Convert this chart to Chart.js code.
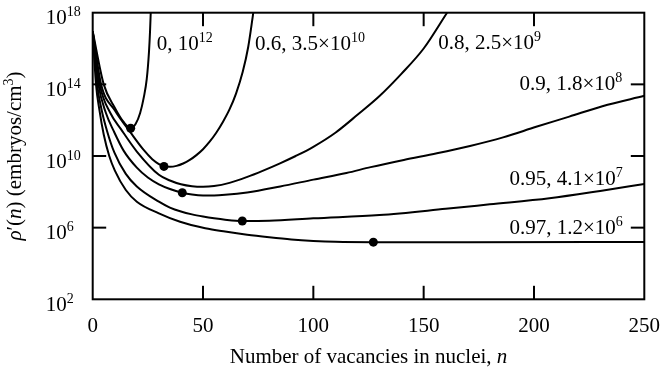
<!DOCTYPE html>
<html>
<head>
<meta charset="utf-8">
<script src="https://cdn.jsdelivr.net/npm/chart.js@4/dist/chart.umd.min.js"></script>
<style>
  html, body { margin: 0; padding: 0; background: #fff; }
  #wrap { width: 661px; height: 372px; }
</style>
</head>
<body>
<div id="wrap"><canvas id="chart" width="661" height="372"></canvas></div>
<script>
// Embryo density vs. number of vacancies, one curve per (fraction, rate) pair.
// n values and log10 of the density rho'(n) in embryos/cm^3.
const nA  = [0, 5, 10, 14, 17.2, 19.5, 21.5, 23.2, 24.5, 25.5, 26.0, 26.3];
const lgA = [16.95, 14.0, 12.7, 11.9, 11.55, 11.8, 12.4, 13.3, 14.3, 15.8, 17.0, 18.0];

const nB  = [0, 3.8, 10, 17.2, 23, 27, 30, 32.3, 35, 38, 41, 44, 47, 50, 53, 56, 59, 62, 65, 68, 70.5, 72.8];
const lgB = [16.95, 14.0, 12.55, 11.3, 10.35, 9.82, 9.55, 9.42, 9.40, 9.45, 9.58, 9.78, 10.05, 10.38, 10.8, 11.3, 11.9, 12.6, 13.5, 14.7, 16.1, 18.0];

const nC  = [0, 3.2, 8, 12.8, 20, 30, 35, 40, 45, 50, 55, 62, 69.8, 77, 84.9, 92, 99.8, 110, 120, 130, 140, 150, 160.6];
const lgC = [16.95, 14.0, 12.4, 11.5, 10.25, 8.95, 8.63, 8.42, 8.31, 8.28, 8.32, 8.5, 8.82, 9.17, 9.59, 10.0, 10.5, 11.3, 12.3, 13.35, 14.6, 16.0, 18.0];

const nD  = [0, 2.6, 6, 9.5, 14, 20, 25, 30, 35, 40.6, 45, 50, 55, 60, 70, 85, 100, 115, 126, 141, 156, 171, 186, 201, 216, 231, 250];
const lgD = [16.95, 14.0, 12.4, 11.4, 10.3, 9.35, 8.8, 8.42, 8.16, 7.95, 7.85, 7.8, 7.8, 7.83, 7.96, 8.3, 8.68, 9.05, 9.38, 9.78, 10.15, 10.56, 11.04, 11.63, 12.2, 12.78, 13.36];

const nE  = [0, 2, 4, 6.5, 9.8, 15, 20, 30, 35, 40, 45, 50, 55, 60, 67.8, 80, 100, 130, 160, 180, 207, 230, 250];
const lgE = [16.95, 14.0, 12.6, 11.4, 10.2, 9.0, 8.3, 7.45, 7.12, 6.9, 6.74, 6.62, 6.52, 6.44, 6.37, 6.38, 6.52, 6.70, 7.05, 7.3, 7.64, 8.05, 8.44];

const nF  = [0, 1.5, 3, 5, 7.5, 10, 15, 20, 30, 39.6, 51, 60, 70, 80, 90, 100, 110, 127.2, 170, 250];
const lgF = [16.95, 14.0, 12.6, 11.2, 10.0, 9.2, 8.1, 7.45, 6.8, 6.33, 5.97, 5.78, 5.6, 5.46, 5.34, 5.26, 5.21, 5.19, 5.19, 5.2];

// marked points on the curves
const dotN  = [17.2, 32.3, 40.6, 67.8, 127.2];
const dotLg = [11.55, 9.42, 7.95, 6.37, 5.19];

// curve captions: main text and exponent
const capMain = ['0, 10', '0.6, 3.5\u00d710', '0.8, 2.5\u00d710', '0.9, 1.8\u00d710', '0.95, 4.1\u00d710', '0.97, 1.2\u00d710'];
const capExp  = ['12', '10', '9', '8', '7', '6'];

// axis ticks
const xTickVals = [0, 50, 100, 150, 200, 250];
const yTickExps = [2, 6, 10, 14, 18];

// ---- layout (data units for caption anchors: left edge n, baseline log10) ----
const capAnchor = [
  [29.0, 15.92], [73.6, 15.92], [156.6, 15.95],
  [193.4, 13.68], [188.9, 8.38], [188.9, 5.62]
];

const SERIF = '"Liberation Serif", "Times New Roman", "DejaVu Serif", serif';
const F_MAIN = '21px ' + SERIF;
const F_IT = 'italic 21px ' + SERIF;
const F_SUP = '14px ' + SERIF;

function pts(ns, lgs) { return ns.map((n, i) => ({ x: n, y: Math.pow(10, lgs[i]) })); }

const curveStyle = {
  borderColor: '#000', borderWidth: 2, pointRadius: 0, fill: false,
  cubicInterpolationMode: 'monotone'
};

// draw a run of text pieces: {t, sup, it}
function runWidth(ctx, parts) {
  let w = 0;
  for (const p of parts) { ctx.font = p.sup ? F_SUP : (p.it ? F_IT : F_MAIN); w += ctx.measureText(p.t).width; }
  return w;
}
function drawRun(ctx, x, y, parts) {
  let cx = x;
  for (const p of parts) {
    ctx.font = p.sup ? F_SUP : (p.it ? F_IT : F_MAIN);
    ctx.fillText(p.t, cx, p.sup ? y - 8 : y);
    cx += ctx.measureText(p.t).width;
  }
}

const decor = {
  id: 'decor',
  afterDatasetsDraw(chart) {
    const { ctx, chartArea: a, scales: { x, y } } = chart;
    ctx.save();
    ctx.strokeStyle = '#000';
    ctx.fillStyle = '#000';
    ctx.lineWidth = 2;
    ctx.lineCap = 'butt';
    ctx.strokeRect(a.left, a.top, a.right - a.left, a.bottom - a.top);

    const L = 13.5;
    const seg = (x1, y1, x2, y2) => { ctx.beginPath(); ctx.moveTo(x1, y1); ctx.lineTo(x2, y2); ctx.stroke(); };
    xTickVals.forEach(v => {
      const px = x.getPixelForValue(v);
      if (v > 0 && v < 250) { seg(px, a.bottom, px, a.bottom - L); seg(px, a.top, px, a.top + L); }
    });
    yTickExps.forEach(e => {
      const py = y.getPixelForValue(Math.pow(10, e));
      if (e > 2 && e < 18) { seg(a.left, py, a.left + L, py); seg(a.right, py, a.right - L, py); }
    });

    // tick labels
    ctx.textBaseline = 'alphabetic';
    ctx.font = F_MAIN;
    ctx.textAlign = 'center';
    xTickVals.forEach(v => ctx.fillText(String(v), x.getPixelForValue(v), a.bottom + 33));
    yTickExps.forEach(e => {
      const py = y.getPixelForValue(Math.pow(10, e));
      ctx.textAlign = 'right'; ctx.font = F_MAIN;
      ctx.fillText('10', a.left - 26, py + 11.5);
      ctx.textAlign = 'left'; ctx.font = F_SUP;
      ctx.fillText(String(e), a.left - 26, py + 3.5);
    });

    // curve captions
    ctx.textAlign = 'left';
    capMain.forEach((t, i) => {
      const [cn, cl] = capAnchor[i];
      drawRun(ctx, x.getPixelForValue(cn), y.getPixelForValue(Math.pow(10, cl)),
        [{ t }, { t: capExp[i], sup: true }]);
    });

    // x axis title
    const xt = [{ t: 'Number of vacancies in nuclei, ' }, { t: 'n', it: true }];
    const xw = runWidth(ctx, xt);
    drawRun(ctx, (a.left + a.right) / 2 - xw / 2, a.bottom + 64, xt);

    // y axis title (rotated)
    const yt = [{ t: '\u03c1', it: true }, { t: '\u2032(' }, { t: 'n', it: true }, { t: ') (embryos/cm' }, { t: '3', sup: true }, { t: ')' }];
    const yw = runWidth(ctx, yt);
    ctx.save();
    ctx.translate(21, (a.top + a.bottom) / 2);
    ctx.rotate(-Math.PI / 2);
    drawRun(ctx, -yw / 2, 0, yt);
    ctx.restore();

    ctx.restore();
  }
};

new Chart(document.getElementById('chart'), {
  type: 'line',
  data: {
    datasets: [
      { ...curveStyle, data: pts(nA, lgA) },
      { ...curveStyle, data: pts(nB, lgB) },
      { ...curveStyle, data: pts(nC, lgC) },
      { ...curveStyle, data: pts(nD, lgD) },
      { ...curveStyle, data: pts(nE, lgE) },
      { ...curveStyle, data: pts(nF, lgF) },
      {
        data: pts(dotN, dotLg), showLine: false,
        pointRadius: 4.5, pointBackgroundColor: '#000', pointBorderColor: '#000', pointBorderWidth: 0
      }
    ]
  },
  options: {
    responsive: false,
    devicePixelRatio: 1,
    animation: false,
    layout: { padding: { left: 92.7, right: 16.7, top: 12.7, bottom: 72.7 } },
    plugins: { legend: { display: false }, tooltip: { enabled: false } },
    scales: {
      x: { type: 'linear', min: 0, max: 250, display: false },
      y: { type: 'logarithmic', min: 1e2, max: 1e18, display: false }
    }
  },
  plugins: [decor]
});
</script>
</body>
</html>
